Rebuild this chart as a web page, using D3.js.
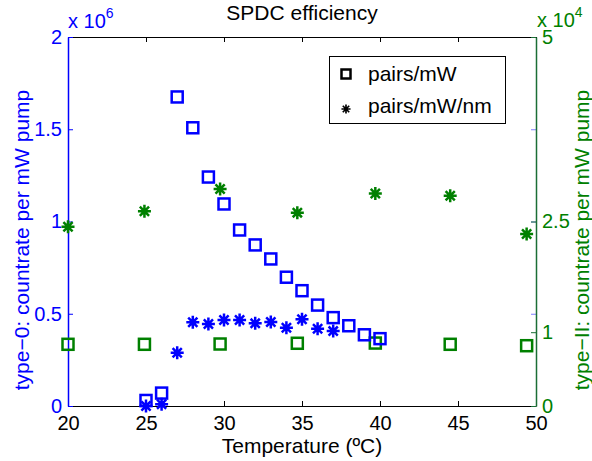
<!DOCTYPE html>
<html>
<head>
<meta charset="utf-8">
<script src="https://cdn.jsdelivr.net/npm/d3@7"></script>
<style>
  body { margin: 0; background: #fff; }
  svg { font-family: "Liberation Sans", Arial, sans-serif; }
</style>
</head>
<body>
<div id="chart"></div>
<script>
// type-0 data (left axis, x 10^6)
const temps0 = [25, 26, 27, 28, 29, 30, 31, 32, 33, 34, 35, 36, 37, 38, 39, 40]
const pairsMw0 = [0.03, 0.07, 1.675, 1.508, 1.241, 1.095, 0.954, 0.873, 0.797, 0.698, 0.625, 0.547, 0.479, 0.435, 0.386, 0.365]
const tempsNm0 = [25, 26, 27, 28, 29, 30, 31, 32, 33, 34, 35, 36, 37]
const pairsNm0 = [0.0, 0.01, 0.289, 0.454, 0.444, 0.466, 0.466, 0.448, 0.455, 0.424, 0.47, 0.419, 0.406]

// type-II data (right axis, x 10^4)
const temps2 = [20, 24.9, 29.75, 34.7, 39.7, 44.5, 49.4]
const pairsMw2 = [0.836, 0.836, 0.84, 0.85, 0.853, 0.836, 0.817]
const pairsNm2 = [2.43, 2.64, 2.94, 2.62, 2.88, 2.85, 2.33]

const xTicks = [20, 25, 30, 35, 40, 45, 50]
const leftTicks = [0, 0.5, 1, 1.5, 2]
const rightTicks = [0, 1, 2.5, 5]

const W = 592, H = 461
const m = { left: 68, right: 56, top: 37, bottom: 55 }
const blue = '#0000ff', green = '#008000', axGreen = '#1b6e35'
const fs = 21, tfs = 20

const svg = d3.select('#chart').append('svg').attr('width', W).attr('height', H)

const x = d3.scaleLinear().domain([20, 50]).range([m.left, W - m.right])
const yL = d3.scaleLinear().domain([0, 2]).range([H - m.bottom, m.top])
const yR = d3.scaleLinear().domain([0, 5]).range([H - m.bottom, m.top])

const fmt = d => String(d)

// bottom + top axes
svg.append('g').attr('transform', `translate(0,${H - m.bottom})`)
  .call(d3.axisBottom(x).tickValues(xTicks).tickSizeInner(-5).tickSizeOuter(0).tickPadding(10).tickFormat(fmt))
  .call(g => g.selectAll('text').attr('font-size', tfs).attr('fill', '#000'))
  .call(g => g.select('.domain').attr('stroke', '#000'))
svg.append('g').attr('transform', `translate(0,${m.top})`)
  .call(d3.axisTop(x).tickValues(xTicks).tickSizeInner(-5).tickSizeOuter(0).tickFormat(''))

// blue tick marks on right side for left axis
svg.append('g').attr('transform', `translate(${W - m.right},0)`)
  .call(d3.axisRight(yL).tickValues(leftTicks).tickSizeInner(-5).tickSizeOuter(0).tickFormat(''))
  .call(g => g.select('.domain').remove())
  .call(g => g.selectAll('line').attr('stroke', '#7f7fff'))

// left axis
svg.append('g').attr('transform', `translate(${m.left},0)`)
  .call(d3.axisLeft(yL).tickValues(leftTicks).tickSizeInner(-5).tickSizeOuter(0).tickPadding(6).tickFormat(fmt))
  .call(g => g.selectAll('text').attr('font-size', tfs).attr('fill', blue))
  .call(g => g.selectAll('line').attr('stroke', blue))
  .call(g => g.select('.domain').attr('stroke', blue).attr('stroke-width', 1.5))

// right axis
svg.append('g').attr('transform', `translate(${W - m.right},0)`)
  .call(d3.axisRight(yR).tickValues(rightTicks).tickSizeInner(-5).tickSizeOuter(0).tickPadding(6).tickFormat(fmt))
  .call(g => g.selectAll('text').attr('font-size', tfs).attr('fill', green))
  .call(g => g.selectAll('line').attr('stroke', axGreen))
  .call(g => g.select('.domain').attr('stroke', axGreen).attr('stroke-width', 1.5))

// exponents
const e6 = svg.append('text').attr('x', m.left).attr('y', 28).attr('fill', blue).attr('font-size', 20)
e6.append('tspan').text('x 10')
e6.append('tspan').attr('dy', -10).attr('font-size', 14).text('6')
const e4 = svg.append('text').attr('x', W - m.right + 1).attr('y', 27).attr('fill', green).attr('font-size', 20)
e4.append('tspan').text('x 10')
e4.append('tspan').attr('dy', -10).attr('font-size', 14).text('4')

// title and labels
svg.append('text').attr('x', 302).attr('y', 20).attr('text-anchor', 'middle')
  .attr('font-size', 21).text('SPDC efficiency')
svg.append('text').attr('x', 302).attr('y', 453).attr('text-anchor', 'middle')
  .attr('font-size', fs).text('Temperature (ºC)')
svg.append('text').attr('transform', 'translate(29,240) rotate(-90)').attr('text-anchor', 'middle')
  .attr('font-size', fs).attr('fill', blue).text('type\u22120: countrate per mW pump')
svg.append('text').attr('transform', 'translate(589,240) rotate(-90)').attr('text-anchor', 'middle')
  .attr('font-size', fs).attr('fill', green).text('type\u2212II: countrate per mW pump')

// markers
const starPath = 'M-6.5,0H6.5M0,-6.5V6.5M-4.6,-4.6L4.6,4.6M-4.6,4.6L4.6,-4.6'

function squares(xs, ys, ysc, col) {
  svg.append('g').selectAll('rect').data(xs).join('rect')
    .attr('x', (d, i) => x(d) - 5.5).attr('y', (d, i) => ysc(ys[i]) - 5.5)
    .attr('width', 11).attr('height', 11)
    .attr('fill', 'none').attr('stroke', col).attr('stroke-width', 2.5)
}
function stars(xs, ys, ysc, col) {
  svg.append('g').selectAll('path').data(xs).join('path')
    .attr('transform', (d, i) => `translate(${x(d)},${ysc(ys[i])})`)
    .attr('d', starPath).attr('stroke', col).attr('stroke-width', 2.5).attr('fill', 'none')
}

stars(temps2, pairsNm2, yR, green)
squares(temps2, pairsMw2, yR, green)
stars(tempsNm0, pairsNm0, yL, blue)
squares(temps0, pairsMw0, yL, blue)

// legend
const lg = svg.append('g')
lg.append('rect').attr('x', 329.5).attr('y', 56.5).attr('width', 176).attr('height', 67)
  .attr('fill', '#fff').attr('stroke', '#000')
lg.append('rect').attr('x', 341.5).attr('y', 69.5).attr('width', 9).attr('height', 9)
  .attr('fill', 'none').attr('stroke', '#000').attr('stroke-width', 2.5)
lg.append('path').attr('d', starPath)
  .attr('stroke', '#000').attr('stroke-width', 2.4).attr('transform', 'translate(346,109) scale(0.7)')
lg.append('text').attr('x', 368).attr('y', 81).attr('font-size', fs).text('pairs/mW')
lg.append('text').attr('x', 368).attr('y', 113).attr('font-size', fs).text('pairs/mW/nm')
</script>
</body>
</html>
